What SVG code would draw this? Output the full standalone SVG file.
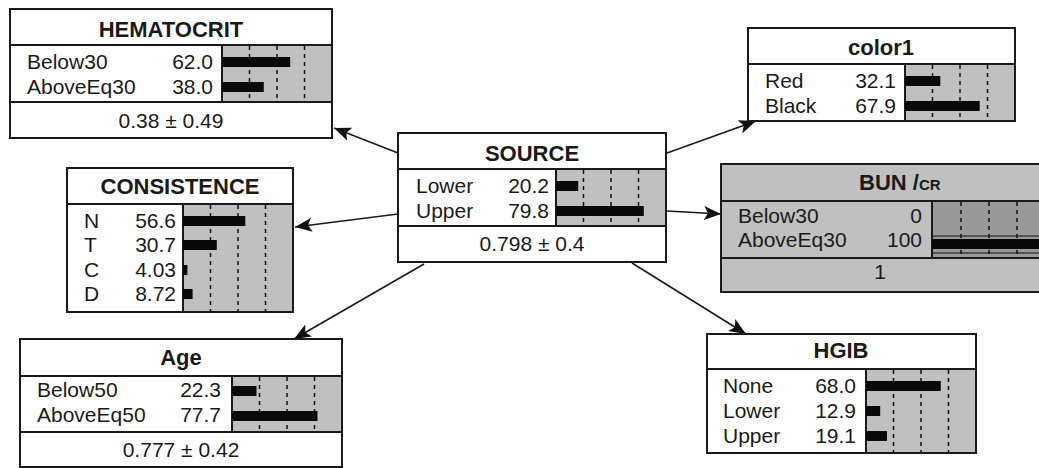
<svg xmlns="http://www.w3.org/2000/svg" width="1039" height="468" viewBox="0 0 1039 468">
<defs>
<marker id="ah" markerUnits="userSpaceOnUse" markerWidth="18" markerHeight="14" refX="17" refY="7" orient="auto">
<path d="M0,0 L17,7 L0,14 L4,7 z" fill="#111"/>
</marker>
<style>
.box{fill:#fff;stroke:#1a1a1a;stroke-width:2}
.gbox{fill:#c0c0c0;stroke:#1a1a1a;stroke-width:2}
.bars{fill:#c0c0c0;stroke:#1a1a1a;stroke-width:2}
.dbars{fill:#999;stroke:#1a1a1a;stroke-width:2}
.ln{stroke:#1a1a1a;stroke-width:2}
.dash{stroke:#111;stroke-width:1.5;stroke-dasharray:4 4}
.bar{fill:#0a0a0a}
.t{font-family:"Liberation Sans",Arial,sans-serif;font-size:22px;font-weight:bold;fill:#1a1a1a;text-anchor:middle}
.l{font-family:"Liberation Sans",Arial,sans-serif;font-size:21px;fill:#1a1a1a}
.n{font-family:"Liberation Sans",Arial,sans-serif;font-size:21px;fill:#1a1a1a;text-anchor:end}
.m{font-family:"Liberation Sans",Arial,sans-serif;font-size:21px;fill:#1a1a1a;text-anchor:middle}
.c{stroke:#1a1a1a;stroke-width:1.6;fill:none;marker-end:url(#ah)}
</style>
</defs>
<rect width="1039" height="468" fill="#fff"/>

<g id="connectors">
<line class="c" x1="398" y1="153" x2="334" y2="128"/>
<line class="c" x1="398" y1="214" x2="295" y2="227"/>
<line class="c" x1="424" y1="264" x2="294" y2="339"/>
<line class="c" x1="667" y1="153" x2="756" y2="121"/>
<line class="c" x1="667" y1="211" x2="721" y2="214"/>
<line class="c" x1="632" y1="263" x2="746" y2="334"/>
</g>

<g id="hematocrit">
<rect class="box" x="10" y="9" width="322" height="129"/>
<line class="ln" x1="10" y1="45" x2="332" y2="45"/>
<line class="ln" x1="10" y1="102" x2="332" y2="102"/>
<rect class="bars" x="222" y="45" width="110" height="57"/>
<line class="dash" x1="249.5" y1="46" x2="249.5" y2="101"/>
<line class="dash" x1="277" y1="46" x2="277" y2="101"/>
<line class="dash" x1="304.5" y1="46" x2="304.5" y2="101"/>
<rect class="bar" x="222" y="57" width="68.2" height="10"/>
<rect class="bar" x="222" y="82" width="41.8" height="10"/>
<text class="t" x="171" y="37">HEMATOCRIT</text>
<text class="l" x="27" y="69">Below30</text><text class="n" x="213" y="69">62.0</text>
<text class="l" x="27" y="94">AboveEq30</text><text class="n" x="213" y="94">38.0</text>
<text class="m" x="171" y="128">0.38 ± 0.49</text>
</g>

<g id="consistence">
<rect class="box" x="67" y="168" width="226" height="144"/>
<line class="ln" x1="67" y1="204" x2="293" y2="204"/>
<rect class="bars" x="183" y="204" width="110" height="108"/>
<line class="dash" x1="210.5" y1="205" x2="210.5" y2="311"/>
<line class="dash" x1="238" y1="205" x2="238" y2="311"/>
<line class="dash" x1="265.5" y1="205" x2="265.5" y2="311"/>
<rect class="bar" x="183" y="216" width="62.3" height="10"/>
<rect class="bar" x="183" y="240" width="33.8" height="10"/>
<rect class="bar" x="183" y="265" width="4.4" height="10"/>
<rect class="bar" x="183" y="289" width="9.6" height="10"/>
<text class="t" x="180" y="194">CONSISTENCE</text>
<text class="l" x="84" y="228">N</text><text class="n" x="176" y="228">56.6</text>
<text class="l" x="84" y="252">T</text><text class="n" x="176" y="252">30.7</text>
<text class="l" x="84" y="277">C</text><text class="n" x="176" y="277">4.03</text>
<text class="l" x="84" y="301">D</text><text class="n" x="176" y="301">8.72</text>
</g>

<g id="source">
<rect class="box" x="398" y="133" width="268" height="129"/>
<line class="ln" x1="398" y1="169" x2="666" y2="169"/>
<line class="ln" x1="398" y1="226" x2="666" y2="226"/>
<rect class="bars" x="556" y="169" width="110" height="57"/>
<line class="dash" x1="583.5" y1="170" x2="583.5" y2="225"/>
<line class="dash" x1="611" y1="170" x2="611" y2="225"/>
<line class="dash" x1="638.5" y1="170" x2="638.5" y2="225"/>
<rect class="bar" x="556" y="181" width="22.2" height="10"/>
<rect class="bar" x="556" y="206" width="87.8" height="10"/>
<text class="t" x="532" y="161">SOURCE</text>
<text class="l" x="416" y="193">Lower</text><text class="n" x="549" y="193">20.2</text>
<text class="l" x="416" y="218">Upper</text><text class="n" x="549" y="218">79.8</text>
<text class="m" x="532" y="251">0.798 ± 0.4</text>
</g>

<g id="color1">
<rect class="box" x="748" y="28" width="267" height="93"/>
<line class="ln" x1="748" y1="64" x2="1015" y2="64"/>
<rect class="bars" x="905" y="64" width="110" height="57"/>
<line class="dash" x1="932.5" y1="65" x2="932.5" y2="120"/>
<line class="dash" x1="960" y1="65" x2="960" y2="120"/>
<line class="dash" x1="987.5" y1="65" x2="987.5" y2="120"/>
<rect class="bar" x="905" y="76" width="35.3" height="10"/>
<rect class="bar" x="905" y="101" width="74.7" height="10"/>
<text class="t" x="881" y="55">color1</text>
<text class="l" x="765" y="88">Red</text><text class="n" x="896" y="88">32.1</text>
<text class="l" x="765" y="113">Black</text><text class="n" x="896" y="113">67.9</text>
</g>

<g id="buncr">
<rect class="gbox" x="721" y="164" width="330" height="128"/>
<line class="ln" x1="721" y1="201" x2="1045" y2="201"/>
<line class="ln" x1="721" y1="258" x2="1045" y2="258"/>
<rect class="dbars" x="932" y="201" width="120" height="57"/>
<line class="dash" x1="961" y1="202" x2="961" y2="257"/>
<line class="dash" x1="989" y1="202" x2="989" y2="257"/>
<line class="dash" x1="1017" y1="202" x2="1017" y2="257"/>
<line x1="932" y1="236" x2="1045" y2="236" stroke="#111" stroke-width="1"/>
<rect class="bar" x="932" y="239" width="113" height="10"/>
<line x1="932" y1="253" x2="1045" y2="253" stroke="#111" stroke-width="1"/>
<text class="t" x="859" y="190" style="text-anchor:start">BUN /<tspan style="font-size:15px">CR</tspan></text>
<text class="l" x="738" y="223">Below30</text><text class="n" x="922" y="223">0</text>
<text class="l" x="738" y="247">AboveEq30</text><text class="n" x="922" y="247">100</text>
<text class="m" x="880" y="279">1</text>
</g>

<g id="age">
<rect class="box" x="20" y="339" width="322" height="128"/>
<line class="ln" x1="20" y1="376" x2="342" y2="376"/>
<line class="ln" x1="20" y1="432" x2="342" y2="432"/>
<rect class="bars" x="232" y="376" width="110" height="56"/>
<line class="dash" x1="259.5" y1="377" x2="259.5" y2="431"/>
<line class="dash" x1="287" y1="377" x2="287" y2="431"/>
<line class="dash" x1="314.5" y1="377" x2="314.5" y2="431"/>
<rect class="bar" x="232" y="386" width="24.5" height="10"/>
<rect class="bar" x="232" y="411" width="85.5" height="10"/>
<text class="t" x="181" y="365">Age</text>
<text class="l" x="37" y="397">Below50</text><text class="n" x="221" y="397">22.3</text>
<text class="l" x="37" y="422">AboveEq50</text><text class="n" x="221" y="422">77.7</text>
<text class="m" x="181" y="457">0.777 ± 0.42</text>
</g>

<g id="hgib">
<rect class="box" x="707" y="334" width="269" height="119"/>
<line class="ln" x1="707" y1="369" x2="976" y2="369"/>
<rect class="bars" x="866" y="369" width="110" height="84"/>
<line class="dash" x1="893.5" y1="370" x2="893.5" y2="452"/>
<line class="dash" x1="921" y1="370" x2="921" y2="452"/>
<line class="dash" x1="948.5" y1="370" x2="948.5" y2="452"/>
<rect class="bar" x="866" y="381" width="74.8" height="10"/>
<rect class="bar" x="866" y="406" width="14.2" height="10"/>
<rect class="bar" x="866" y="431" width="21" height="10"/>
<text class="t" x="841" y="358">HGIB</text>
<text class="l" x="723" y="393">None</text><text class="n" x="856" y="393">68.0</text>
<text class="l" x="723" y="418">Lower</text><text class="n" x="856" y="418">12.9</text>
<text class="l" x="723" y="443">Upper</text><text class="n" x="856" y="443">19.1</text>
</g>
</svg>
